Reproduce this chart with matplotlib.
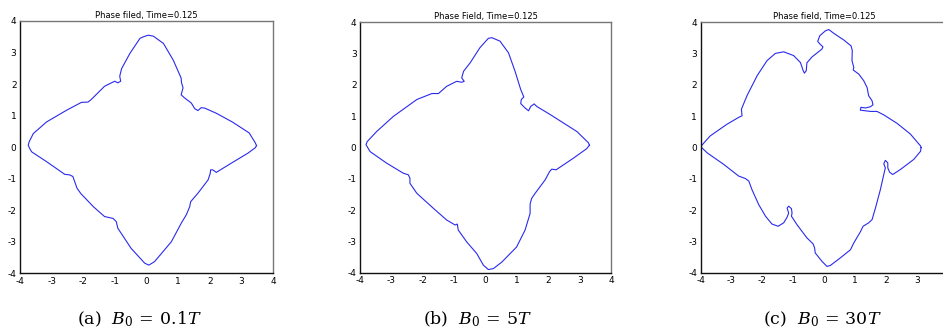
import numpy as np
import matplotlib
matplotlib.use("Agg")
import matplotlib.pyplot as plt

plt.rcParams['mathtext.fontset'] = 'dejavuserif'
plt.rcParams['axes.unicode_minus'] = False

# contorno de la interfase (x, y)
xa = [3.47, 3.43, 3.30, 3.24, 2.72, 2.21, 1.83, 1.72, 1.62, 1.52, 1.41, 1.20, 1.09, 1.15, 1.10, 1.09,
      0.84, 0.53, 0.21, 0.05, -0.10, -0.21, -0.53, -0.79, -0.85, -0.82, -0.91, -1.01, -1.33, -1.75,
      -1.85, -2.06, -2.53, -3.16, -3.58, -3.71, -3.74, -3.69, -3.63, -3.16, -2.59, -2.43, -2.33,
      -2.27, -2.20, -2.08, -1.68, -1.33, -1.06, -0.96, -0.91, -0.49, -0.06, 0.07, 0.25, 0.78, 1.10,
      1.25, 1.36, 1.39, 1.62, 1.94, 2.01, 2.02, 2.09, 2.20, 2.67, 3.20, 3.43, 3.47]
ya = [0.05, 0.14, 0.35, 0.45, 0.79, 1.07, 1.24, 1.25, 1.16, 1.22, 1.40, 1.56, 1.66, 1.88, 2.05, 2.19,
      2.76, 3.29, 3.52, 3.55, 3.50, 3.45, 2.97, 2.49, 2.25, 2.09, 2.04, 2.09, 1.93, 1.51,
      1.43, 1.42, 1.17, 0.80, 0.43, 0.17, 0.06, -0.05, -0.15, -0.46, -0.86, -0.88, -0.93,
      -1.10, -1.30, -1.47, -1.89, -2.20, -2.26, -2.36, -2.57, -3.21, -3.68, -3.74, -3.63, -3.00, -2.40,
      -2.15, -1.89, -1.73, -1.46, -1.04, -0.83, -0.72, -0.72, -0.80, -0.51, -0.19, -0.02, 0.05]

xb = [3.31, 3.28, 2.91, 2.06, 1.63, 1.55, 1.44, 1.37, 1.26, 1.12, 1.14, 1.22, 1.12, 0.94, 0.73, 0.46,
      0.20, 0.09, -0.18, -0.49, -0.70, -0.76, -0.68, -0.76, -0.92, -1.24, -1.50, -1.71, -2.19, -2.94,
      -3.47, -3.77, -3.81, -3.68, -3.15, -2.62, -2.46, -2.41, -2.41, -2.19, -1.66, -1.24, -0.97, -0.90,
      -0.87, -0.60, -0.28, -0.07, 0.09, 0.25, 0.52, 0.99, 1.26, 1.42, 1.42, 1.47, 1.58, 1.90, 2.04,
      2.11, 2.25, 2.80, 3.22, 3.31]
yb = [0.07, 0.15, 0.51, 1.05, 1.31, 1.39, 1.31, 1.17, 1.26, 1.40, 1.53, 1.61, 1.85, 2.43, 3.02, 3.39,
      3.50, 3.48, 3.18, 2.70, 2.43, 2.22, 2.11, 2.08, 2.11, 1.95, 1.72, 1.72, 1.53, 0.99,
      0.51, 0.19, 0.09, -0.13, -0.50, -0.82, -0.87, -0.98, -1.14, -1.46, -1.94, -2.31, -2.47, -2.44,
      -2.63, -3.01, -3.38, -3.75, -3.89, -3.86, -3.65, -3.17, -2.63, -2.10, -1.80, -1.62, -1.46, -1.03, -0.77,
      -0.69, -0.71, -0.34, -0.04, 0.07]

xc = [3.14, 3.12, 2.79, 2.36, 1.93, 1.71, 1.50, 1.34, 1.17, 1.19, 1.34, 1.50, 1.58, 1.55, 1.44, 1.39,
      1.28, 1.12, 0.94, 0.96, 0.90, 0.91, 0.87, 0.63, 0.31, 0.15, 0.04, -0.145, -0.21, -0.12, -0.04,
      -0.07, -0.21, -0.39, -0.56, -0.58, -0.64, -0.68, -0.77, -0.99, -1.31, -1.58, -1.85, -2.17, -2.50,
      -2.68, -2.66, -2.77, -3.15, -3.69, -4.0, -3.79, -3.25, -2.77, -2.55, -2.44, -2.34, -2.12, -1.90,
      -1.69, -1.49, -1.31, -1.20, -1.15, -1.20, -1.15, -1.06, -1.04, -1.06, -0.88, -0.56, -0.36, -0.31,
      -0.29, -0.07, 0.09, 0.20, 0.52, 0.85, 0.96, 1.17, 1.26, 1.44, 1.55, 1.66, 1.82, 1.93, 1.98, 1.93,
      1.98, 2.06, 2.06, 2.12, 2.22, 2.47, 2.90, 3.12, 3.14]
yc = [0.0, 0.05, 0.43, 0.77, 1.04, 1.15, 1.15, 1.17, 1.19, 1.28, 1.26, 1.30, 1.36, 1.49, 1.65, 1.91,
      2.13, 2.34, 2.47, 2.55, 2.77, 3.09, 3.24, 3.43, 3.64, 3.76, 3.72, 3.56, 3.38, 3.28, 3.21,
      3.14, 3.03, 2.89, 2.70, 2.45, 2.37, 2.45, 2.71, 2.93, 3.05, 3.00, 2.77, 2.29, 1.65,
      1.22, 1.01, 0.96, 0.74, 0.37, 0.03, -0.17, -0.54, -0.91, -0.99, -1.07, -1.34, -1.82, -2.19,
      -2.44, -2.51, -2.40, -2.22, -2.09, -1.93, -1.87, -1.95, -2.09, -2.19, -2.46, -2.88, -3.07, -3.20,
      -3.36, -3.63, -3.79, -3.76, -3.52, -3.26, -3.04, -2.69, -2.51, -2.40, -2.30, -1.93, -1.34, -0.86, -0.65, -0.52,
      -0.41, -0.49, -0.65, -0.79, -0.86, -0.70, -0.38, -0.12, 0.0]

titulos = ["Phase filed, Time=0.125", "Phase Field, Time=0.125", "Phase field, Time=0.125"]
rotulos = [r"(a)  $B_0\,=\,0.1T$", r"(b)  $B_0\,=\,5T$", r"(c)  $B_0\,=\,30T$"]
ticks = [-4, -3, -2, -1, 0, 1, 2, 3, 4]

fig = plt.figure(figsize=(9.43, 3.36), dpi=100)
posiciones = [[0.0212, 0.1866, 0.2686, 0.7509],
              [0.3818, 0.1875, 0.2662, 0.7470],
              [0.7430, 0.1875, 0.2620, 0.7470]]
centros = [0.148, 0.506, 0.872]

for i, (xs, ys) in enumerate([(xa, ya), (xb, yb), (xc, yc)]):
    ax = fig.add_axes(posiciones[i])
    ax.plot(xs, ys, color='#2a2aee', lw=0.8)
    ax.set_xlim(-4, 4)
    ax.set_ylim(-4, 4)
    # el panel (c) queda cortado por la derecha, sin el "4"
    ax.set_xticks(ticks if i < 2 else ticks[:-1])
    ax.set_yticks(ticks)
    ax.tick_params(length=0, labelsize=6.5, pad=2.5)
    for lado in ['left', 'bottom']:
        ax.spines[lado].set_linewidth(1.0)
        ax.spines[lado].set_color('#111111')
    for lado in ['top', 'right']:
        ax.spines[lado].set_linewidth(1.0)
        ax.spines[lado].set_color('#777777')
    ax.set_title(titulos[i], fontsize=6, pad=2.5)
    fig.text(centros[i], 0.05, rotulos[i], ha='center', va='center', fontsize=12.5, family='DejaVu Serif')

fig.savefig("out.png", dpi=100)
